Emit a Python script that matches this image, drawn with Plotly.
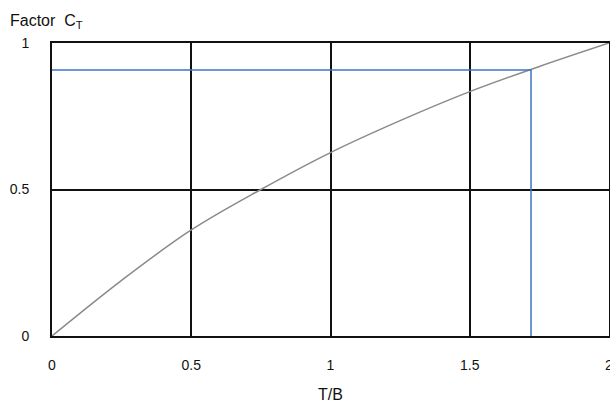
import plotly.graph_objects as go

# Curve data
tb = [0, 0.25, 0.5, 0.75, 1.0, 1.25, 1.5, 1.75, 2.0]
ct = [0, 0.19, 0.362, 0.5, 0.626, 0.735, 0.834, 0.92, 1.0]

# Reading guide (blue)
guide_x = [0, 1.72, 1.72]
guide_y = [0.908, 0.908, 0]

x_ticks = [0, 0.5, 1, 1.5, 2]
x_labels = ["0", "0.5", "1", "1.5", "2"]
y_ticks = [0, 0.5, 1]
y_labels = ["0", "0.5", "1"]

fig = go.Figure()
fig.add_trace(go.Scatter(x=tb, y=ct, mode="lines", line=dict(color="#8a8a8a", width=1.5, shape="spline"),
                         showlegend=False, hoverinfo="skip"))
fig.add_trace(go.Scatter(x=guide_x, y=guide_y, mode="lines", line=dict(color="#3f74c6", width=1.5),
                         showlegend=False, hoverinfo="skip"))

font = dict(family="Liberation Sans, Arial, sans-serif", color="#111")

fig.update_layout(
    width=610, height=405,
    margin=dict(l=52, r=1, t=43, b=69),
    paper_bgcolor="white", plot_bgcolor="white",
    font=dict(size=14, **font),
    title=dict(text="Factor  C<sub>T</sub>", xref="container", yref="container",
               x=10/610, y=1 - 20/405, xanchor="left", yanchor="middle",
               font=dict(size=16, **font)),
    xaxis=dict(range=[0, 2], tickvals=x_ticks, ticktext=x_labels, showgrid=True,
               gridcolor="#111", gridwidth=2, zeroline=False, showline=True, linecolor="#111",
               linewidth=2, mirror=True, ticks="", ticklabelstandoff=15,
               ticklabeloverflow="allow", automargin=False,
               title=dict(text="T/B", standoff=17, font=dict(size=16, **font))),
    yaxis=dict(range=[0, 1], tickvals=y_ticks, ticktext=y_labels, showgrid=True,
               gridcolor="#111", gridwidth=2, zeroline=False, showline=True, linecolor="#111",
               linewidth=2, mirror=True, ticks="", ticklabelstandoff=18,
               ticklabeloverflow="allow", automargin=False),
)

fig.write_html("out.html")
